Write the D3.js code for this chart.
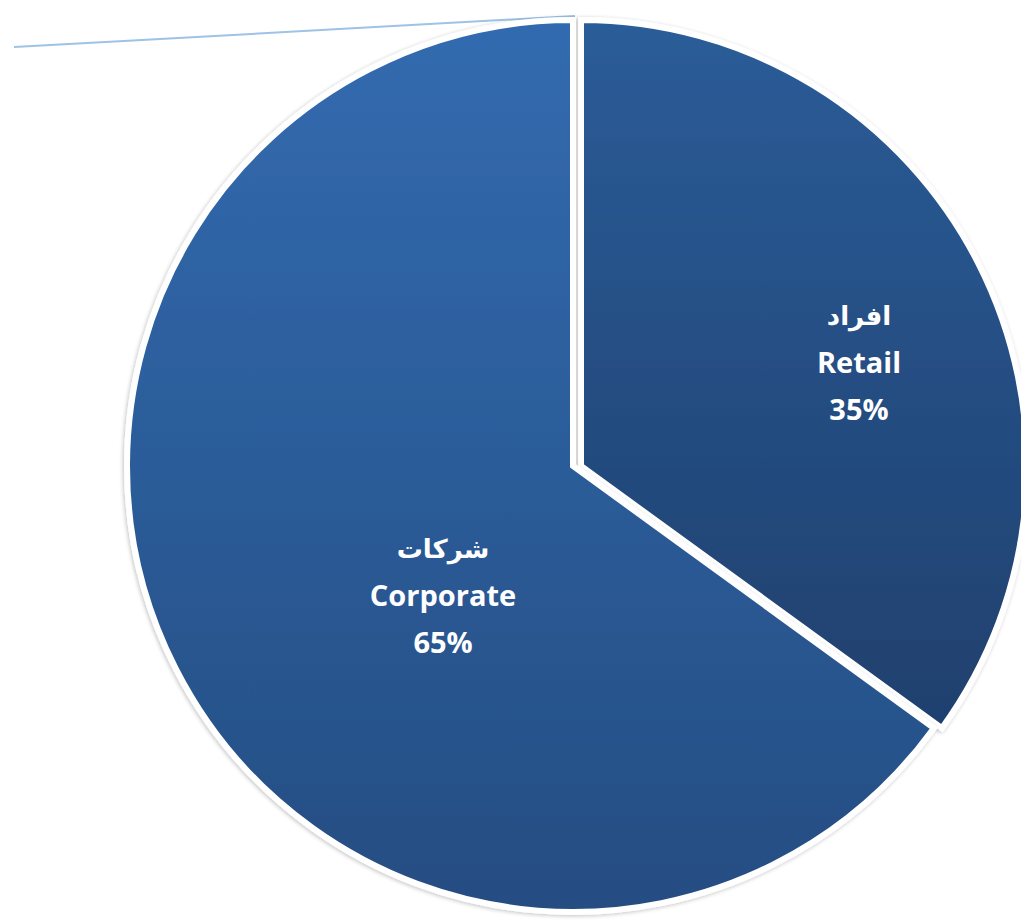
<!DOCTYPE html>
<html><head><meta charset="utf-8">
<script src="https://cdn.jsdelivr.net/npm/d3@7"></script>
<style>html,body{margin:0;padding:0;background:#fff;}svg{display:block;}</style>
</head><body>
<svg id="chart" width="1021" height="921"></svg>
<script>
const categories = ["Retail", "Corporate"];
const arabicNames = ["افراد", "شركات"];
const values = [35, 65];
const pctLabels = ["35%", "65%"];

const W = 1021, H = 921;
const cx = 576, cy = 466, R = 446;
const svg = d3.select("#chart");
const defs = svg.append("defs");

const grads = [
  {id: "gRetail", top: "#2b5c98", bottom: "#1f406e"},
  {id: "gCorp", top: "#326bb0", bottom: "#254d82"}
];
grads.forEach(g => {
  const lg = defs.append("linearGradient").attr("id", g.id)
    .attr("x1", 0).attr("y1", 0).attr("x2", 0).attr("y2", 1);
  lg.append("stop").attr("offset", "0%").attr("stop-color", g.top);
  lg.append("stop").attr("offset", "100%").attr("stop-color", g.bottom);
});
const f = defs.append("filter").attr("id", "shadow").attr("x", "-10%").attr("y", "-10%").attr("width", "120%").attr("height", "120%");
f.append("feGaussianBlur").attr("in", "SourceAlpha").attr("stdDeviation", 2).attr("result", "b");
f.append("feOffset").attr("in", "b").attr("dx", -1).attr("dy", 1).attr("result", "o");
f.append("feComponentTransfer").attr("in", "o").attr("result", "o2")
  .append("feFuncA").attr("type", "linear").attr("slope", 0.25);
const fm = f.append("feMerge");
fm.append("feMergeNode").attr("in", "o2");
fm.append("feMergeNode").attr("in", "SourceGraphic");

const pie = d3.pie().sort(null).value(d => d)(values);
const arc = d3.arc().innerRadius(0).outerRadius(R);

// leader-like line
svg.append("line").attr("x1", 14).attr("y1", 47).attr("x2", 575).attr("y2", 16)
  .attr("stroke", "#9dc3e6").attr("stroke-width", 2);

const gPie = svg.append("g").attr("transform", `translate(${cx},${cy})`);
const fills = ["url(#gRetail)", "url(#gCorp)"];
const offsets = [[5, 0], [-3, 0]];
gPie.selectAll("path.slice").data(pie).join("path")
  .attr("class", "slice")
  .attr("transform", (d, i) => `translate(${offsets[i][0]},${offsets[i][1]})`)
  .attr("d", arc)
  .attr("fill", (d, i) => fills[i])
  .attr("stroke", "#fff").attr("stroke-width", 6).attr("stroke-linejoin", "miter")
  .attr("filter", "url(#shadow)");

const labelArc = d3.arc().innerRadius(R * 0.62).outerRadius(R * 0.62);
const nudges = [[36.6, 32.5], [113.4, 14.5]];
const labels = gPie.selectAll("g.lbl").data(pie).join("g").attr("class", "lbl")
  .attr("transform", (d, i) => {
    const c = labelArc.centroid(d);
    return `translate(${c[0] + nudges[i][0]},${c[1] + nudges[i][1]})`;
  });
labels.append("text").attr("y", -48).attr("text-anchor", "middle")
  .attr("font-family", "'DejaVu Sans', sans-serif").attr("font-weight", "bold").attr("font-size", 26)
  .attr("fill", "#fff").text((d, i) => arabicNames[i]);
labels.append("text").attr("y", 0).attr("text-anchor", "middle")
  .attr("font-family", "'Open Sans', Lato, sans-serif").attr("font-weight", "bold").attr("font-size", 29)
  .attr("fill", "#fff").text((d, i) => categories[i]);
labels.append("text").attr("y", 47).attr("text-anchor", "middle")
  .attr("font-family", "'Open Sans', Lato, sans-serif").attr("font-weight", "bold").attr("font-size", 29)
  .attr("fill", "#fff").text((d, i) => pctLabels[i]);
</script>
</body></html>
